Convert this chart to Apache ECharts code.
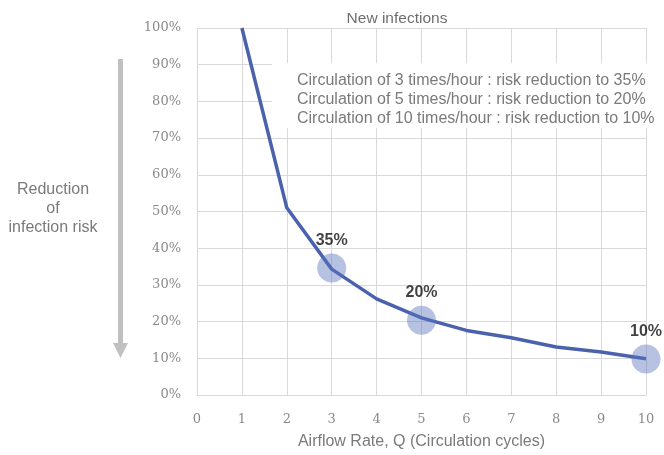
<!DOCTYPE html>
<html><head><meta charset="utf-8">
<script src="https://cdn.jsdelivr.net/npm/echarts@6/dist/echarts.min.js"></script>
<style>html,body{margin:0;padding:0;background:#fff}#c{width:664px;height:455px}</style>
</head><body><div id="c"></div>
<script>
const xValues = [1, 2, 3, 4, 5, 6, 7, 8, 9, 10];
const riskValues = [100, 51, 34.3, 26.2, 21, 17.6, 15.6, 13.1, 11.7, 9.9];
const highlightX = [3, 5, 10];
const highlightY = [34.6, 20.4, 9.8];
const highlightLabels = ['35%', '20%', '10%'];
const annotationLines = [
  'Circulation of 3 times/hour : risk reduction to 35%',
  'Circulation of 5 times/hour : risk reduction to 20%',
  'Circulation of 10 times/hour : risk reduction to 10%'
];
const chart = echarts.init(document.getElementById('c'));
const sans = 'Liberation Sans, Arial, sans-serif';
const serif = 'DejaVu Serif, serif';
chart.setOption({
  animation: false,
  title: {text: 'New infections', left: 392, textAlign: 'center', top: 6,
    textStyle: {fontFamily: sans, fontSize: 15.5, fontWeight: 'normal', color: '#6e6e6e'}},
  grid: {left: 197, right: 18, top: 28, bottom: 60},
  xAxis: {type: 'value', min: 0, max: 10, interval: 1,
    name: 'Airflow Rate, Q (Circulation cycles)', nameLocation: 'middle', nameGap: 39,
    nameTextStyle: {fontFamily: sans, fontSize: 16, color: '#7a7a7a'},
    axisLine: {show: true, lineStyle: {color: '#d9d9d9', width: 1}},
    axisTick: {show: false},
    axisLabel: {fontFamily: serif, fontSize: 13, color: '#8a8a8a', margin: 18},
    splitLine: {show: true, lineStyle: {color: '#d9d9d9', width: 1}}},
  yAxis: {type: 'value', min: 0, max: 100, interval: 10,
    axisLine: {show: false}, axisTick: {show: false},
    axisLabel: {formatter: '{value}%', fontFamily: serif, fontSize: 13, color: '#8a8a8a', margin: 16},
    splitLine: {show: true, lineStyle: {color: '#d9d9d9', width: 1}}},
  graphic: [
    {type: 'rect', shape: {x: 272, y: 63, width: 392, height: 65}, style: {fill: '#fff'}, z: 5},
    {type: 'text', left: 297, top: 71, z: 6,
      style: {text: annotationLines.join('\n'), fontFamily: sans, fontSize: 16, lineHeight: 19, fill: '#7a7a7a'}},
    {type: 'rect', shape: {x: 118, y: 59, width: 5, height: 285}, style: {fill: '#c0c0c0'}, z: 6},
    {type: 'polygon', shape: {points: [[113, 343], [128, 343], [120.5, 358]]}, style: {fill: '#c0c0c0'}, z: 6},
    {type: 'text', x: 53, y: 180, z: 6,
      style: {text: 'Reduction\nof\ninfection risk', textAlign: 'center', fontFamily: sans, fontSize: 16, lineHeight: 19, fill: '#7a7a7a'}}
  ],
  series: [
    {type: 'line', data: xValues.map((x, i) => [x, riskValues[i]]), symbol: 'none',
      lineStyle: {color: '#4a62ad', width: 3.5}, z: 3},
    {type: 'scatter', data: highlightX.map((x, i) => [x, highlightY[i]]), symbolSize: 29,
      itemStyle: {color: 'rgba(90,115,190,0.55)'}, z: 4,
      label: {show: true, position: 'top', distance: 5, formatter: p => highlightLabels[p.dataIndex],
        fontFamily: sans, fontSize: 16, fontWeight: 'bold', color: '#111'}}
  ]
});
</script></body></html>
